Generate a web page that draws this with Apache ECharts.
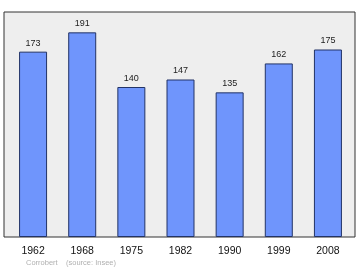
<!DOCTYPE html>
<html><head><meta charset="utf-8">
<script src="https://cdn.jsdelivr.net/npm/echarts@6/dist/echarts.min.js"></script>
<style>html,body{margin:0;padding:0;background:#fff}#c{width:360px;height:270px}</style>
</head><body><div id="c"></div>
<script>
const years = ['1962','1968','1975','1982','1990','1999','2008'];
const population = [173, 191, 140, 147, 135, 162, 175];
const place = 'Corrobert';
const source = '(source: Insee)';

const chart = echarts.init(document.getElementById('c'), null, {renderer:'canvas'});
chart.setOption({
  animation: false,
  textStyle: {fontFamily: 'Liberation Sans, Arial, sans-serif'},
  title: {
    text: place + '    ' + source,
    left: 21, top: 254,
    textStyle: {fontSize: 7.5, color: '#b0b0b0', fontWeight: 'normal', fontFamily: 'Liberation Sans, Arial, sans-serif'}
  },
  grid: [
    {left: 4, right: 5, top: 12, bottom: 33, show: true, backgroundColor: '#eeeeee', borderColor: '#333', borderWidth: 1},
    {left: 8.5, right: 7.5, top: 12, bottom: 33}
  ],
  xAxis: [
    {gridIndex: 0, type: 'value', show: false, min: 0, max: 1},
    {gridIndex: 1, type: 'category', data: years,
     axisLine: {show: false}, axisTick: {show: false},
     axisLabel: {fontSize: 10.5, color: '#111', margin: 9}}
  ],
  yAxis: [
    {gridIndex: 0, type: 'value', show: false, min: 0, max: 1},
    {gridIndex: 1, type: 'value', min: 0, max: 210, show: false}
  ],
  series: [{
    type: 'bar', xAxisIndex: 1, yAxisIndex: 1, data: population,
    barWidth: 28,
    itemStyle: {color: '#6f95fc', borderColor: '#223366', borderWidth: 1},
    label: {show: true, position: 'top', distance: 4, fontSize: 9, color: '#222'}
  }]
});
</script></body></html>
